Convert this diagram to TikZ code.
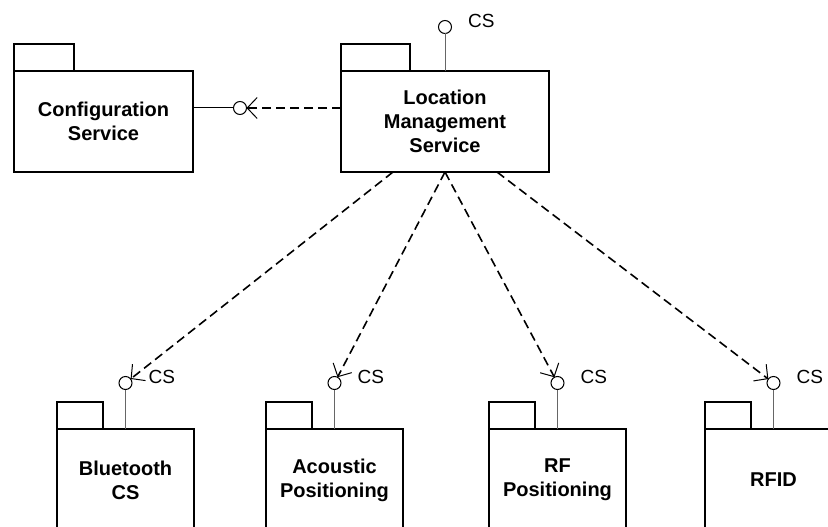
\documentclass[tikz,border=0pt]{standalone}
\usepackage{fontspec}
\setmainfont{Liberation Sans}
\usetikzlibrary{positioning,arrows.meta,calc}

\begin{document}
\begin{tikzpicture}[x=1pt,y=-1pt,
    pkg node/.style={rectangle,draw,line width=1.6pt,outer sep=0pt,inner sep=0pt,align=center,font=\fontsize{20}{24}\selectfont\bfseries},
    tab node/.style={rectangle,draw,line width=1.6pt,outer sep=0pt,inner sep=0pt,minimum height=27pt},
    iface node/.style={circle,draw,fill=white,line width=1pt,outer sep=0pt,inner sep=0pt,minimum size=13pt},
    cs label/.style={label={[label distance=13pt,yshift=6pt,font=\fontsize{19}{23}\selectfont]right:CS}},
    stem/.style={line width=1pt,black!60},
    dep/.style={line width=1.6pt,dash pattern=on 9pt off 5pt,-{Straight Barb[length=10pt,width=21pt,line width=1pt]}}]
    \useasboundingbox (0,0) rectangle (828,527);

    % packages
    \node[pkg node,minimum width=179pt,minimum height=101pt] (cfg) at (103.5,121.5) {Configuration\\Service};
    \node[pkg node,minimum width=208pt,minimum height=101pt] (lms) [right=148pt of cfg] {Location\\Management\\Service};
    \node[pkg node,minimum width=137pt,minimum height=102pt] (bt) at (125.5,480) {Bluetooth\\CS};
    \node[pkg node,minimum width=137pt,minimum height=102pt] (ac) [right=72pt of bt] {Acoustic\\Positioning};
    \node[pkg node,minimum width=137pt,minimum height=102pt] (rf) [right=86pt of ac] {RF\\Positioning};
    \node[pkg node,minimum width=137pt,minimum height=102pt] (rfid) [right=79pt of rf] {RFID};

    % tabs
    \node[tab node,minimum width=60pt] (cfg tab) [above right=0pt and 0pt of cfg.north west] {};
    \node[tab node,minimum width=69pt] (lms tab) [above right=0pt and 0pt of lms.north west] {};
    \node[tab node,minimum width=46pt] (bt tab) [above right=0pt and 0pt of bt.north west] {};
    \node[tab node,minimum width=46pt] (ac tab) [above right=0pt and 0pt of ac.north west] {};
    \node[tab node,minimum width=46pt] (rf tab) [above right=0pt and 0pt of rf.north west] {};
    \node[tab node,minimum width=46pt] (rfid tab) [above right=0pt and 0pt of rfid.north west] {};

    % interfaces
    \node[iface node,cs label] (lms cs) [above=37.5pt of lms] {};
    \node[iface node] (cfg cs) at (240,108) {};
    \node[iface node,cs label] (bt cs) [above=39.5pt of bt] {};
    \node[iface node,cs label] (ac cs) [above=39.5pt of ac] {};
    \node[iface node,cs label] (rf cs) [above=39.5pt of rf] {};
    \node[iface node,cs label] (rfid cs) [above=39.5pt of rfid] {};

    \path[stem]
        (lms) edge (lms cs)
        (bt) edge (bt cs)
        (ac) edge (ac cs)
        (rf) edge (rf cs)
        (rfid) edge (rfid cs);
    \draw[line width=1pt] (cfg cs) -- (cfg cs -| cfg.east);

    \draw[dep] (cfg cs -| lms.west) -- (cfg cs);
    \draw[dep] ($(lms.south west)!0.25!(lms.south east)$) -- (bt cs);
    \draw[dep] (lms.south) -- (ac cs);
    \draw[dep] (lms.south) -- (rf cs);
    \draw[dep] ($(lms.south west)!0.75!(lms.south east)$) -- (rfid cs);
\end{tikzpicture}
\end{document}
